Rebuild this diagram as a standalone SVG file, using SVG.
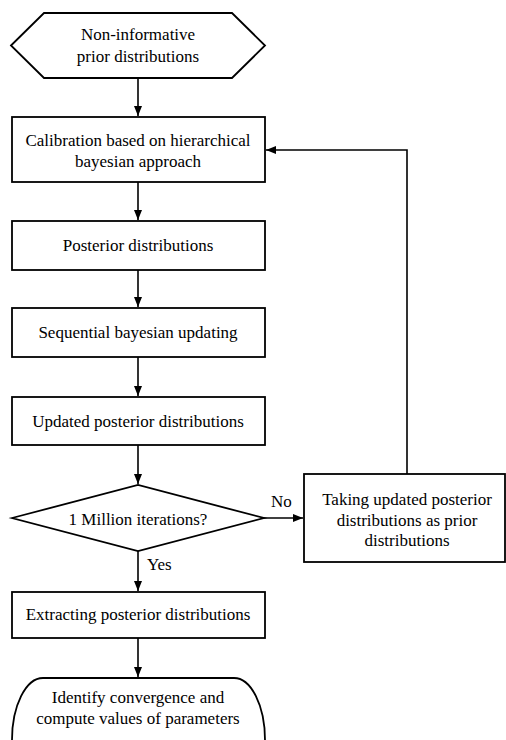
<svg xmlns="http://www.w3.org/2000/svg" width="506" height="740" viewBox="0 0 506 740">
<defs>
<style>
.s{fill:#fff;stroke:#000;stroke-width:1.8}
.c{fill:none;stroke:#000;stroke-width:1.6}
text{font-family:"Liberation Serif","Times New Roman",serif;font-size:17px;fill:#000}
.m{text-anchor:middle}
</style>
<marker id="a" viewBox="0 0 10 8" refX="10" refY="4" markerWidth="10" markerHeight="8" markerUnits="userSpaceOnUse" orient="auto">
<path d="M0,0 L10,4 L0,8 Z" fill="#000"/>
</marker>
</defs>
<g id="connectors">
<line class="c" x1="138" y1="78" x2="138" y2="116" marker-end="url(#a)"/>
<line class="c" x1="138" y1="182" x2="138" y2="220" marker-end="url(#a)"/>
<line class="c" x1="138" y1="270" x2="138" y2="307" marker-end="url(#a)"/>
<line class="c" x1="138" y1="357" x2="138" y2="396" marker-end="url(#a)"/>
<line class="c" x1="138" y1="445" x2="138" y2="484" marker-end="url(#a)"/>
<line class="c" x1="264" y1="518" x2="303" y2="518" marker-end="url(#a)"/>
<line class="c" x1="138" y1="551" x2="138" y2="591" marker-end="url(#a)"/>
<line class="c" x1="138" y1="638" x2="138" y2="677" marker-end="url(#a)"/>
<polyline class="c" points="407,474 407,150 266,150" marker-end="url(#a)"/>
<text x="271" y="507">No</text>
<text x="147" y="570">Yes</text>
</g>
<g id="start">
<polygon class="s" points="11,45.5 44,13 232,13 265,45.5 232,78 44,78"/>
<text class="m" x="138" y="40">Non-informative</text>
<text class="m" x="138" y="62">prior distributions</text>
</g>
<g id="calibration">
<rect class="s" x="12" y="117" width="253" height="65"/>
<text class="m" x="138" y="146">Calibration based on hierarchical</text>
<text class="m" x="138" y="167">bayesian approach</text>
</g>
<g id="posterior">
<rect class="s" x="12" y="221" width="253" height="49"/>
<text class="m" x="138" y="251">Posterior distributions</text>
</g>
<g id="sequential">
<rect class="s" x="12" y="308" width="253" height="49"/>
<text class="m" x="138" y="338">Sequential bayesian updating</text>
</g>
<g id="updated">
<rect class="s" x="12" y="397" width="253" height="48"/>
<text class="m" x="138" y="427">Updated posterior distributions</text>
</g>
<g id="decision">
<polygon class="s" points="12,518 138,485 264,518 138,551"/>
<text class="m" x="138" y="525">1 Million iterations?</text>
</g>
<g id="taking">
<rect class="s" x="304" y="474" width="201" height="88"/>
<text class="m" x="407" y="505">Taking updated posterior</text>
<text class="m" x="407" y="526">distributions as prior</text>
<text class="m" x="407" y="546">distributions</text>
</g>
<g id="extracting">
<rect class="s" x="12" y="592" width="253" height="46"/>
<text class="m" x="138" y="620">Extracting posterior distributions</text>
</g>
<g id="end">
<rect class="s" x="12" y="678" width="253" height="124" rx="31" ry="62"/>
<text class="m" x="138" y="703">Identify convergence and</text>
<text class="m" x="138" y="724">compute values of parameters</text>
</g>
</svg>
